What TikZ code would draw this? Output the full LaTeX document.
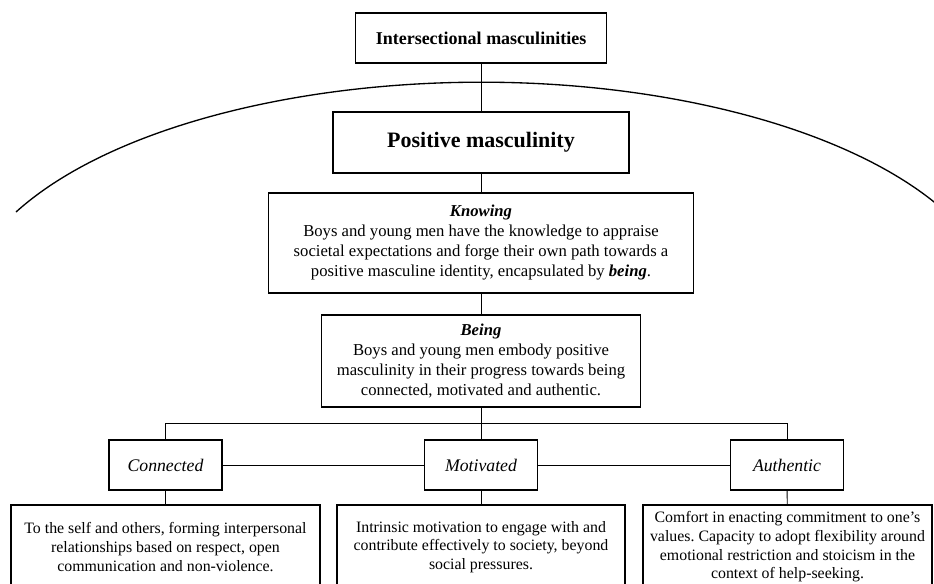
\documentclass[tikz,border=0pt]{standalone}
\usepackage{fontspec}
\setmainfont{Liberation Serif}
\usetikzlibrary{positioning}
\frenchspacing

\begin{document}
\begin{tikzpicture}[x=0.75pt, y=-0.75pt,
  caja/.style={draw, line width=1.4pt, align=center, inner sep=0pt},
  linea/.style={line width=0.7pt},
  texto/.style={font=\fontsize{12.5pt}{15pt}\selectfont},
  textochico/.style={font=\fontsize{11.9pt}{14pt}\selectfont},
  rasgo/.style={font=\fontsize{13.3pt}{15pt}\selectfont}]

\useasboundingbox (0,0) rectangle (934,583);
\clip (0,0) rectangle (934,583);

% Arco
\draw[line width=1pt] (16,212) arc[start angle=206.6, end angle=333.4, x radius=520, y radius=235];

% Nodos centrales
\node[caja, font=\fontsize{13.5pt}{16pt}\selectfont, minimum width=188.25pt, minimum height=37.5pt] (inter) at (481,38) {\textbf{Intersectional masculinities}};
\node[caja, font=\fontsize{16.5pt}{19pt}\selectfont, minimum width=222pt, minimum height=45.75pt] (posm) at (481,142.5) {\textbf{Positive masculinity}};
\node[caja, texto, minimum width=318.75pt, minimum height=75pt] (know) at (481,243) {\textbf{\textit{Knowing}}\\
  Boys and young men have the knowledge to appraise\\
  societal expectations and forge their own path towards a\\
  positive masculine identity, encapsulated by \textbf{\textit{being}}.};
\node[caja, texto, minimum width=239.25pt, minimum height=69pt] (being) at (481,361) {\textbf{\textit{Being}}\\
  Boys and young men embody positive\\
  masculinity in their progress towards being\\
  connected, motivated and authentic.};

% Nodos pequenos
\node[caja, rasgo, minimum width=84.75pt, minimum height=37.5pt] (conn) at (165.5,465) {\textit{Connected}};
\node[caja, rasgo, minimum width=84.75pt, minimum height=37.5pt] (motiv) at (481,465) {\textit{Motivated}};
\node[caja, rasgo, minimum width=84.75pt, minimum height=37.5pt] (auth) at (787,465) {\textit{Authentic}};

% Descripciones
\node[caja, textochico, minimum width=231.75pt, minimum height=63pt] (dconn) at (165.5,547) {To the self and others, forming interpersonal\\
  relationships based on respect, open\\
  communication and non-violence.};
\node[caja, textochico, minimum width=216pt, minimum height=63pt] (dmotiv) at (481,547) {Intrinsic motivation to engage with and\\
  contribute effectively to society, beyond\\
  social pressures.};
\node[caja, textochico, minimum width=216.75pt, minimum height=63pt] (dauth) at (787.5,547) {Comfort in enacting commitment to one’s\\
  values. Capacity to adopt flexibility around\\
  emotional restriction and stoicism in the\\
  context of help-seeking.};

% Conectores
\coordinate (barra) at (481,423);
\draw[linea] (inter) -- (posm);
\draw[linea] (posm) -- (know);
\draw[linea] (know) -- (being);
\draw[linea] (being) -- (barra);
\draw[linea] (conn.north) |- (barra) -| (auth.north);
\draw[linea] (motiv) -- (barra);
\draw[linea] (conn) -- (motiv);
\draw[linea] (motiv) -- (auth);
\draw[linea] (conn) -- (dconn);
\draw[linea] (motiv) -- (dmotiv);
\draw[linea] (auth) -- (dauth);

\end{tikzpicture}
\end{document}
